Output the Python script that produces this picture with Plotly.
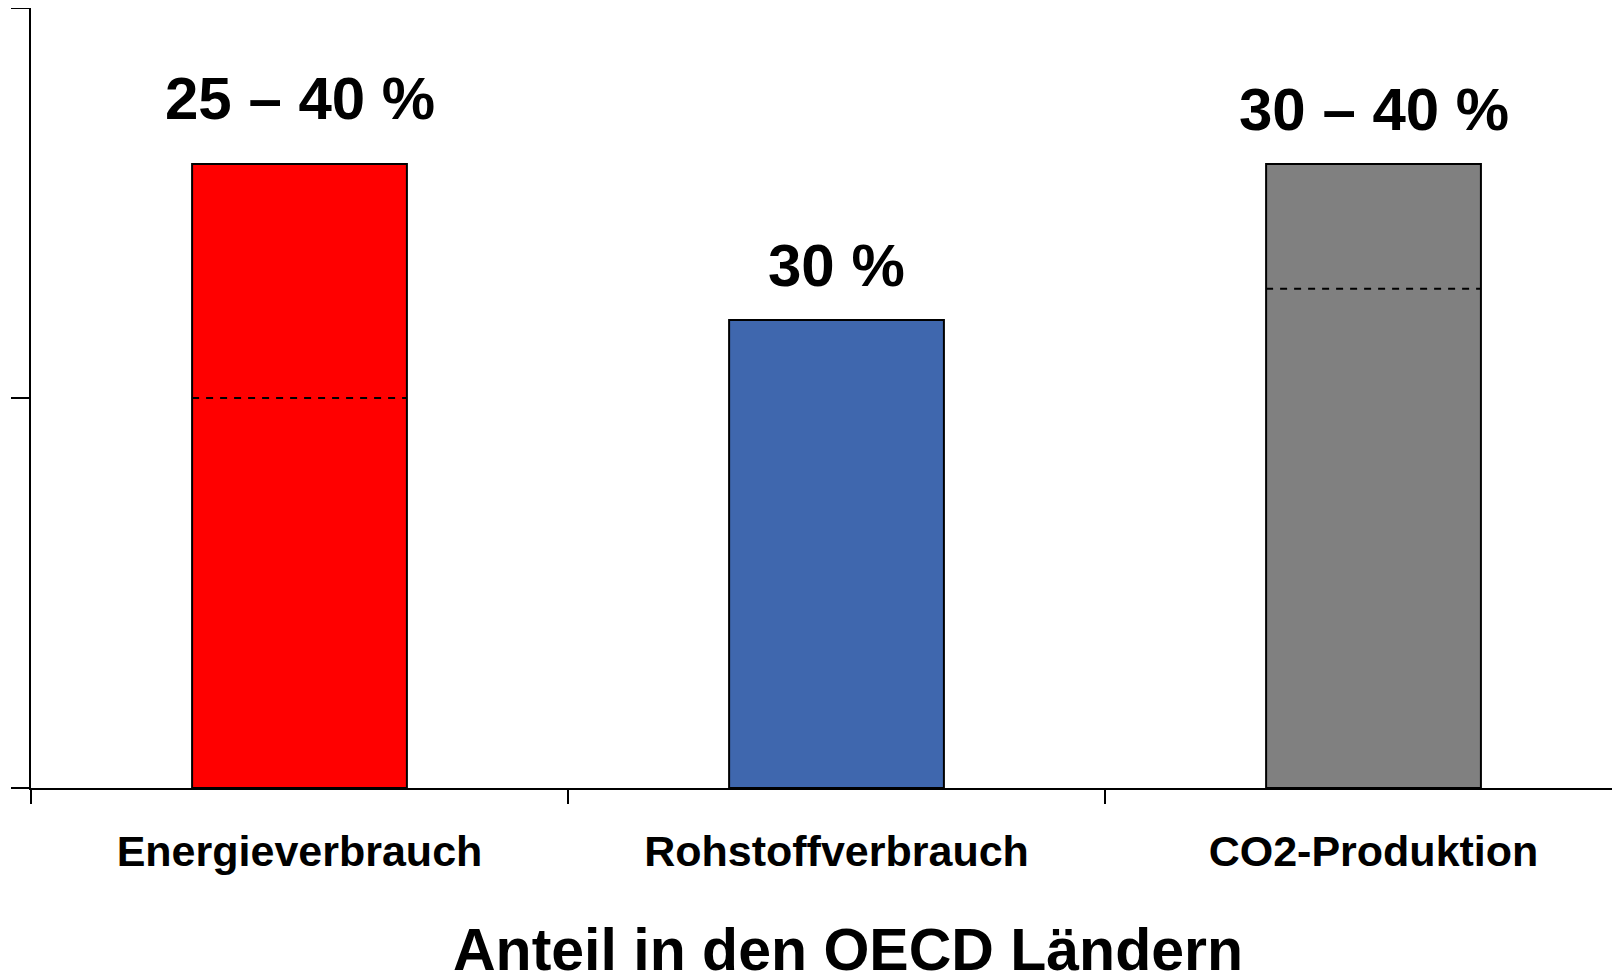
import plotly.graph_objects as go

# ---- data ----
categories = ["Energieverbrauch", "Rohstoffverbrauch", "CO2-Produktion"]
bar_values = [40, 30, 40]            # upper end of range (%)
lower_values = [25, None, 32]        # dashed line = lower end of range (%)
value_labels = ["25 – 40 %", "30 %", "30 – 40 %"]
bar_colors = ["#FF0000", "#3F67AE", "#808080"]
axis_title = "Anteil in den OECD Ländern"
y_ticks = [0, 25, 50]

# ---- style ----
FONT = "Liberation Sans, Arial, sans-serif"
BAR_WIDTH = 0.4
label_shift = [66, 55, 55]

fig = go.Figure()
fig.add_trace(go.Bar(
    x=categories, y=bar_values, width=BAR_WIDTH,
    marker=dict(color=bar_colors, line=dict(color="black", width=2)),
    hoverinfo="skip", showlegend=False,
))

for i, lv in enumerate(lower_values):
    if lv is None:
        continue
    fig.add_shape(type="line", xref="x", yref="y",
                  x0=i - BAR_WIDTH / 2, x1=i + BAR_WIDTH / 2, y0=lv, y1=lv,
                  line=dict(color="black", width=2, dash="7px,7px"), layer="above")

for i, (cat, v, txt) in enumerate(zip(categories, bar_values, value_labels)):
    fig.add_annotation(x=i, y=v, xref="x", yref="y", text=txt, showarrow=False,
                       yanchor="middle", yshift=label_shift[i],
                       font=dict(family=FONT, size=60, color="black", weight="bold"))

fig.add_annotation(x=0.514, y=-0.208, xref="paper", yref="paper", text=axis_title,
                   showarrow=False, xanchor="center", yanchor="middle",
                   font=dict(family=FONT, size=59, color="black", weight="bold"))

# page body has an 8px default margin -> figure sized/offset to compensate
fig.update_layout(
    width=1612, height=969,
    margin=dict(l=23, r=0, t=0, b=188.5, pad=0),
    plot_bgcolor="white", paper_bgcolor="white",
    xaxis=dict(
        type="category", range=[-0.5, 2.459],
        showline=True, linecolor="black", linewidth=2,
        ticks="outside", tickson="boundaries", ticklen=14, tickwidth=2, tickcolor="black",
        tickfont=dict(family=FONT, size=43, color="black", weight="bold"),
        ticklabelstandoff=24,
        showgrid=False, zeroline=False,
    ),
    yaxis=dict(
        range=[0, 50], tickvals=y_ticks, showticklabels=False,
        showline=True, linecolor="black", linewidth=2,
        ticks="outside", ticklen=18, tickwidth=2, tickcolor="black",
        showgrid=False, zeroline=False,
    ),
)

fig.write_html("out.html")
